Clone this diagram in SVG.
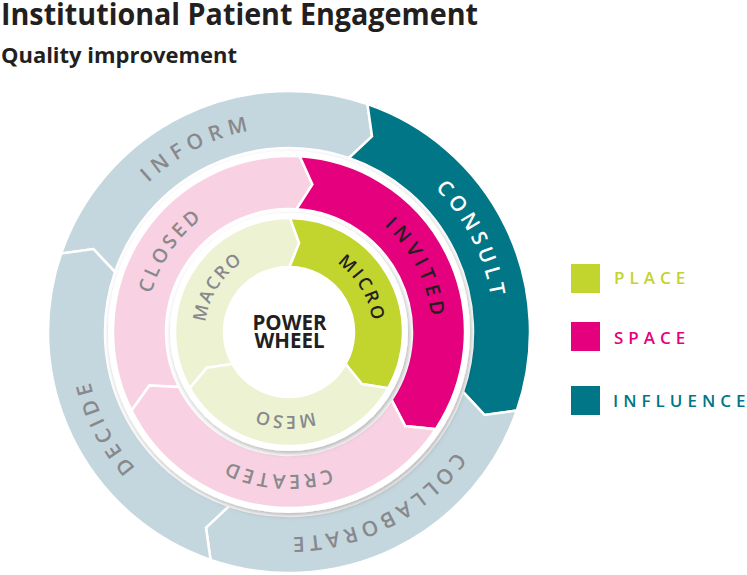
<svg xmlns="http://www.w3.org/2000/svg" width="747" height="575" viewBox="0 0 747 575">
<style>
.seg{stroke:#fff;stroke-width:2.5;stroke-linejoin:miter}
.t{font-family:"Open Sans","Liberation Sans",sans-serif}
.lbl{font-family:"Open Sans","Liberation Sans",sans-serif;font-weight:600}
.grey{fill:#88898c}
.dark{fill:#231f20}
.o{font-size:21px}
.p{font-size:19.5px}
.g{font-size:18px}
.leg{font-family:"Open Sans","Liberation Sans",sans-serif;font-weight:600;font-size:17px;letter-spacing:5px}
</style>
<defs>
<filter id="sh" x="-20%" y="-20%" width="140%" height="140%">
<feDropShadow dx="1.5" dy="2.5" stdDeviation="2.5" flood-color="#000" flood-opacity="0.3"/>
</filter>
<path id="aInform" d="M98.26,407.13 A205,205 0 0 1 463.79,224.89"/>
<path id="aConsult" d="M213.20,141.53 A205,205 0 0 1 396.72,506.42"/>
<path id="aCollab" d="M478.94,254.87 A205,205 0 0 1 115.31,440.90"/>
<path id="aDecide" d="M366.46,521.80 A205,205 0 0 1 179.75,158.53"/>
<path id="aClosed" d="M198.04,442.34 A143,143 0 0 1 359.42,207.54"/>
<path id="aInvited" d="M236.82,198.86 A143,143 0 0 1 363.50,454.06"/>
<path id="aCreated" d="M430.00,355.85 A143,143 0 0 1 146.00,333.00"/>
<path id="aMacro" d="M238.45,399.09 A84,84 0 0 1 327.14,257.16"/>
<path id="aMicro" d="M252.57,256.31 A84,84 0 0 1 338.02,400.21"/>
<path id="aMeso" d="M372.24,343.26 A84,84 0 0 1 205.07,335.37"/>
</defs>

<rect width="747" height="575" fill="#fff"/>

<g id="title">
<text class="t" x="1" y="25" font-size="30" font-weight="700" fill="#231f20" textLength="477" lengthAdjust="spacingAndGlyphs">Institutional Patient Engagement</text>
<text class="t" x="1" y="63" font-size="21.5" font-weight="700" fill="#231f20" textLength="236" lengthAdjust="spacingAndGlyphs">Quality improvement</text>
</g>

<g id="outer-ring">
<g id="inform">
<path class="seg" fill="#c5d7de" d="M61.13,253.54 A241,241 0 0 1 367.46,104.13 L372.03,136.39 L348.90,158.02 A184,184 0 0 0 115.02,272.10 L93.39,248.97 Z"/>
<text class="lbl o grey" letter-spacing="6.2"><textPath href="#aInform" startOffset="50%" text-anchor="middle">INFORM</textPath></text>
</g>
<g id="consult">
<path class="seg" fill="#007687" d="M367.46,104.13 A241,241 0 0 1 516.87,410.46 L484.61,415.03 L462.98,391.90 A184,184 0 0 0 348.90,158.02 L372.03,136.39 Z"/>
<text class="lbl o" fill="#fff" letter-spacing="4.4"><textPath href="#aConsult" startOffset="50%" text-anchor="middle">CONSULT</textPath></text>
</g>
<g id="collaborate">
<path class="seg" fill="#c5d7de" d="M516.87,410.46 A241,241 0 0 1 210.54,559.87 L205.97,527.61 L229.10,505.98 A184,184 0 0 0 462.98,391.90 L484.61,415.03 Z"/>
<text class="lbl o grey" letter-spacing="4.3"><textPath href="#aCollab" startOffset="50%" text-anchor="middle">COLLABORATE</textPath></text>
</g>
<g id="decide">
<path class="seg" fill="#c5d7de" d="M210.54,559.87 A241,241 0 0 1 61.13,253.54 L93.39,248.97 L115.02,272.10 A184,184 0 0 0 229.10,505.98 L205.97,527.61 Z"/>
<text class="lbl o grey" letter-spacing="4.8"><textPath href="#aDecide" startOffset="50%" text-anchor="middle">DECIDE</textPath></text>
</g>
</g>

<circle cx="289" cy="332" r="181" fill="#fff" filter="url(#sh)"/>

<g id="middle-ring">
<g id="closed">
<path class="seg" fill="#f8d2e3" d="M131.49,410.53 A176,176 0 0 1 299.74,156.33 L312.39,184.34 L296.51,209.23 A123,123 0 0 0 178.92,386.88 L149.43,385.58 Z"/>
<text class="lbl p grey" letter-spacing="3.4"><textPath href="#aClosed" startOffset="50%" text-anchor="middle">CLOSED</textPath></text>
</g>
<g id="invited">
<path class="seg" fill="#e5007e" d="M299.74,156.33 A176,176 0 0 1 435.76,429.14 L405.18,426.08 L391.57,399.89 A123,123 0 0 0 296.51,209.23 L312.39,184.34 Z"/>
<text class="lbl p dark" letter-spacing="4.8"><textPath href="#aInvited" startOffset="50%" text-anchor="middle">INVITED</textPath></text>
</g>
<g id="created">
<path class="seg" fill="#f8d2e3" d="M435.76,429.14 A176,176 0 0 1 131.49,410.53 L149.43,385.58 L178.92,386.88 A123,123 0 0 0 391.57,399.89 L405.18,426.08 Z"/>
<text class="lbl p grey" letter-spacing="3.3"><textPath href="#aCreated" startOffset="50%" text-anchor="middle">CREATED</textPath></text>
</g>
</g>

<circle cx="289" cy="332" r="119" fill="#fff" filter="url(#sh)"/>

<g id="inner-ring">
<g id="macro">
<path class="seg" fill="#edf2d2" d="M189.78,388.14 A114,114 0 0 1 290.00,218.00 L299.13,243.08 L289.57,267.00 A65,65 0 0 0 232.43,364.01 L206.92,367.69 Z"/>
<text class="lbl g grey" letter-spacing="1.8"><textPath href="#aMacro" startOffset="50%" text-anchor="middle">MACRO</textPath></text>
</g>
<g id="micro">
<path class="seg" fill="#c2d42e" d="M290.00,218.00 A114,114 0 0 1 388.22,388.14 L361.86,383.97 L345.57,364.01 A65,65 0 0 0 289.57,267.00 L299.13,243.08 Z"/>
<text class="lbl g dark" letter-spacing="2.6"><textPath href="#aMicro" startOffset="50%" text-anchor="middle">MICRO</textPath></text>
</g>
<g id="meso">
<path class="seg" fill="#edf2d2" d="M388.22,388.14 A114,114 0 0 1 189.78,388.14 L206.92,367.69 L232.43,364.01 A65,65 0 0 0 345.57,364.01 L361.86,383.97 Z"/>
<text class="lbl g grey" letter-spacing="2.2"><textPath href="#aMeso" startOffset="50%" text-anchor="middle">MESO</textPath></text>
</g>
</g>

<g id="power-wheel">
<text class="t" x="289.5" y="329.5" font-size="20.5" font-weight="700" fill="#231f20" text-anchor="middle">POWER</text>
<text class="t" x="289.5" y="348.3" font-size="20.5" font-weight="700" fill="#231f20" text-anchor="middle">WHEEL</text>
</g>

<g id="legend">
<g id="legend-place">
<rect x="571" y="264" width="29" height="29" fill="#c2d42e"/>
<text class="leg" x="614" y="283.5" fill="#c2d42e">PLACE</text>
</g>
<g id="legend-space">
<rect x="571" y="322" width="29" height="29" fill="#e5007e"/>
<text class="leg" x="614" y="344" fill="#e5007e">SPACE</text>
</g>
<g id="legend-influence">
<rect x="571" y="386" width="29" height="29" fill="#007687"/>
<text class="leg" x="613" y="406.5" fill="#007687" letter-spacing="3.9">INFLUENCE</text>
</g>
</g>

<g id="connectors"/>
</svg>
